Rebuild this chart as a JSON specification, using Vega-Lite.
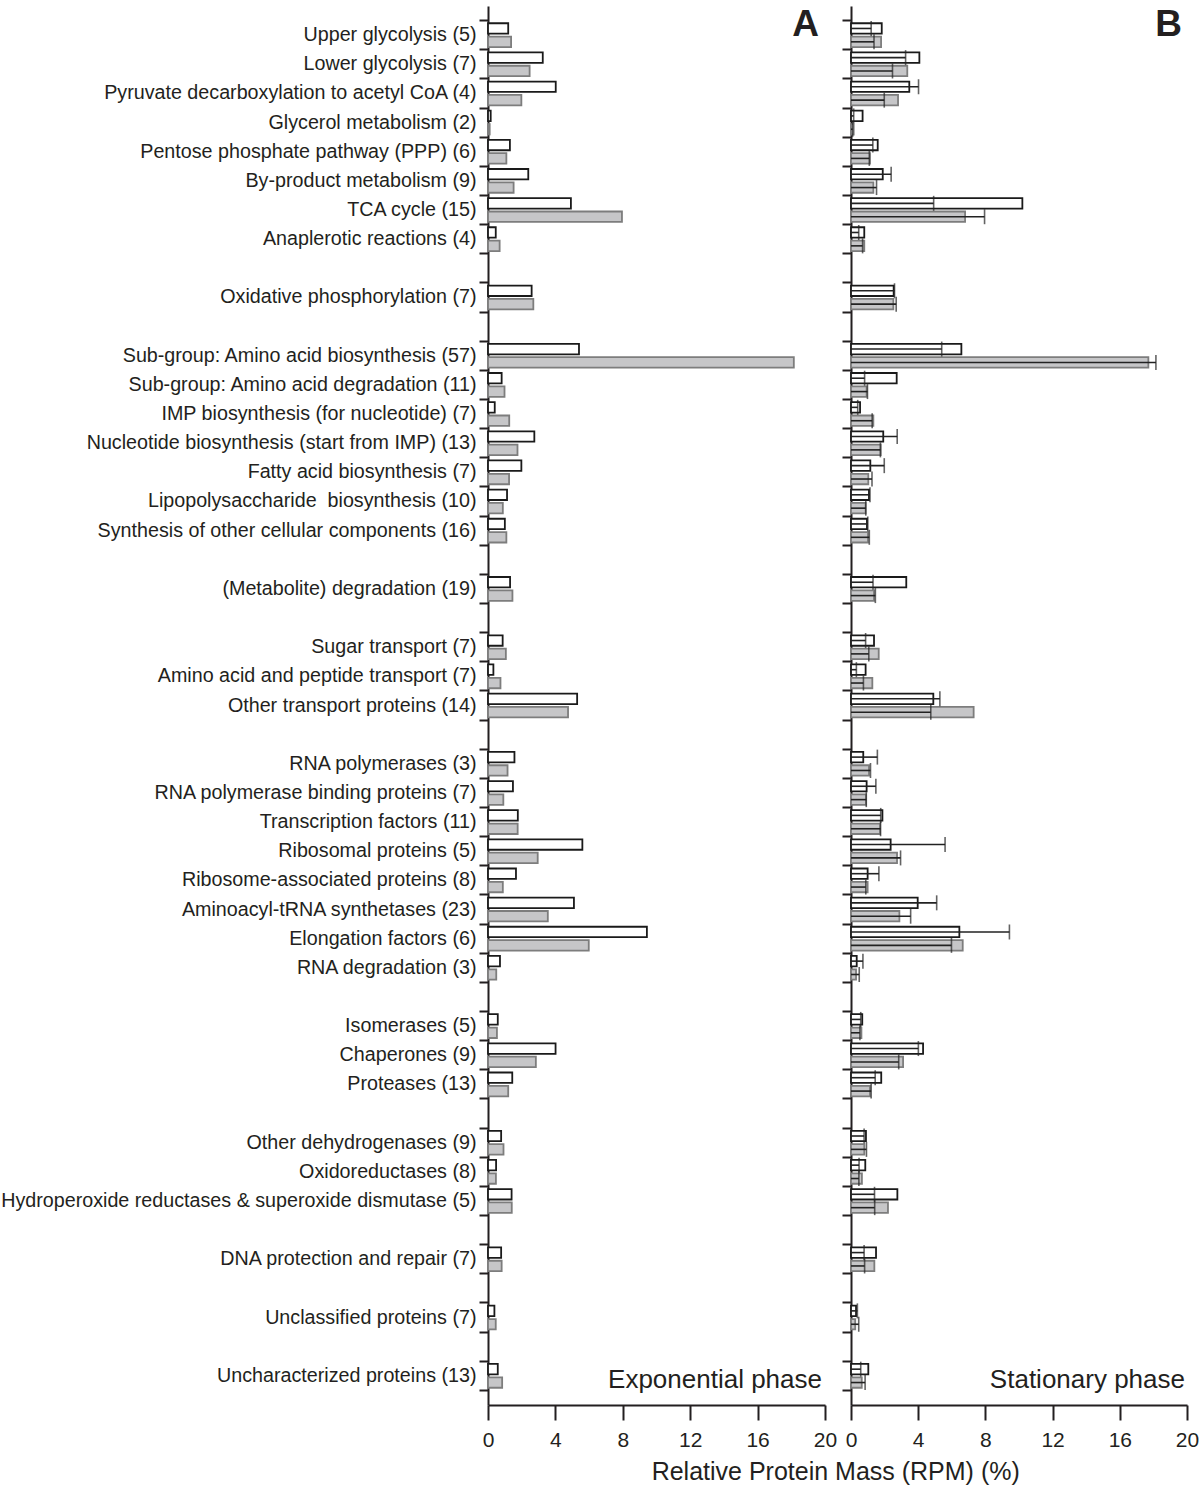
{
  "$schema": "https://vega.github.io/schema/vega-lite/v6.json",
  "background": "white",
  "padding": {"left": 0, "top": 6, "right": 0, "bottom": 4},
  "title": {"text": "Relative Protein Mass (RPM) (%)", "orient": "bottom", "anchor": "middle", "fontSize": 25, "fontWeight": "normal", "font": "Liberation Sans", "color": "#231f20", "dx": 236, "offset": 10},
  "datasets": {
    "rows": [
      {"c": "Upper glycolysis (5)", "s": "s1", "a": 1.2, "b": 1.83},
      {"c": "Upper glycolysis (5)", "s": "s2", "a": 1.37, "b": 1.79},
      {"c": "Lower glycolysis (7)", "s": "s1", "a": 3.25, "b": 4.07},
      {"c": "Lower glycolysis (7)", "s": "s2", "a": 2.47, "b": 3.35},
      {"c": "Pyruvate decarboxylation to acetyl CoA (4)", "s": "s1", "a": 4.02, "b": 3.47},
      {"c": "Pyruvate decarboxylation to acetyl CoA (4)", "s": "s2", "a": 1.98, "b": 2.8},
      {"c": "Glycerol metabolism (2)", "s": "s1", "a": 0.16, "b": 0.69},
      {"c": "Glycerol metabolism (2)", "s": "s2", "a": 0.1, "b": 0.16},
      {"c": "Pentose phosphate pathway (PPP) (6)", "s": "s1", "a": 1.3, "b": 1.59},
      {"c": "Pentose phosphate pathway (PPP) (6)", "s": "s2", "a": 1.09, "b": 1.13},
      {"c": "By-product metabolism (9)", "s": "s1", "a": 2.39, "b": 1.89},
      {"c": "By-product metabolism (9)", "s": "s2", "a": 1.52, "b": 1.33},
      {"c": "TCA cycle (15)", "s": "s1", "a": 4.92, "b": 10.2},
      {"c": "TCA cycle (15)", "s": "s2", "a": 7.95, "b": 6.79},
      {"c": "Anaplerotic reactions (4)", "s": "s1", "a": 0.46, "b": 0.79},
      {"c": "Anaplerotic reactions (4)", "s": "s2", "a": 0.69, "b": 0.79},
      {"c": "Oxidative phosphorylation (7)", "s": "s1", "a": 2.59, "b": 2.54},
      {"c": "Oxidative phosphorylation (7)", "s": "s2", "a": 2.69, "b": 2.52},
      {"c": "Sub-group: Amino acid biosynthesis (57)", "s": "s1", "a": 5.4, "b": 6.57},
      {"c": "Sub-group: Amino acid biosynthesis (57)", "s": "s2", "a": 18.15, "b": 17.7},
      {"c": "Sub-group: Amino acid degradation (11)", "s": "s1", "a": 0.81, "b": 2.72},
      {"c": "Sub-group: Amino acid degradation (11)", "s": "s2", "a": 0.98, "b": 0.93},
      {"c": "IMP biosynthesis (for nucleotide) (7)", "s": "s1", "a": 0.4, "b": 0.54},
      {"c": "IMP biosynthesis (for nucleotide) (7)", "s": "s2", "a": 1.26, "b": 1.33},
      {"c": "Nucleotide biosynthesis (start from IMP) (13)", "s": "s1", "a": 2.75, "b": 1.92},
      {"c": "Nucleotide biosynthesis (start from IMP) (13)", "s": "s2", "a": 1.75, "b": 1.77},
      {"c": "Fatty acid biosynthesis (7)", "s": "s1", "a": 1.98, "b": 1.15},
      {"c": "Fatty acid biosynthesis (7)", "s": "s2", "a": 1.25, "b": 1.03},
      {"c": "Lipopolysaccharide\u00a0 biosynthesis (10)", "s": "s1", "a": 1.13, "b": 1.07},
      {"c": "Lipopolysaccharide\u00a0 biosynthesis (10)", "s": "s2", "a": 0.88, "b": 0.87},
      {"c": "Synthesis of other cellular components (16)", "s": "s1", "a": 1.0, "b": 0.95},
      {"c": "Synthesis of other cellular components (16)", "s": "s2", "a": 1.09, "b": 1.01},
      {"c": "(Metabolite) degradation (19)", "s": "s1", "a": 1.31, "b": 3.29},
      {"c": "(Metabolite) degradation (19)", "s": "s2", "a": 1.45, "b": 1.37},
      {"c": "Sugar transport (7)", "s": "s1", "a": 0.87, "b": 1.37},
      {"c": "Sugar transport (7)", "s": "s2", "a": 1.06, "b": 1.65},
      {"c": "Amino acid and peptide transport (7)", "s": "s1", "a": 0.32, "b": 0.87},
      {"c": "Amino acid and peptide transport (7)", "s": "s2", "a": 0.74, "b": 1.27},
      {"c": "Other transport proteins (14)", "s": "s1", "a": 5.29, "b": 4.9},
      {"c": "Other transport proteins (14)", "s": "s2", "a": 4.75, "b": 7.3},
      {"c": "RNA polymerases (3)", "s": "s1", "a": 1.57, "b": 0.73},
      {"c": "RNA polymerases (3)", "s": "s2", "a": 1.16, "b": 1.07},
      {"c": "RNA polymerase binding proteins (7)", "s": "s1", "a": 1.48, "b": 0.93},
      {"c": "RNA polymerase binding proteins (7)", "s": "s2", "a": 0.91, "b": 0.89},
      {"c": "Transcription factors (11)", "s": "s1", "a": 1.77, "b": 1.87},
      {"c": "Transcription factors (11)", "s": "s2", "a": 1.76, "b": 1.73},
      {"c": "Ribosomal proteins (5)", "s": "s1", "a": 5.6, "b": 2.36},
      {"c": "Ribosomal proteins (5)", "s": "s2", "a": 2.95, "b": 2.74},
      {"c": "Ribosome-associated proteins (8)", "s": "s1", "a": 1.66, "b": 0.99},
      {"c": "Ribosome-associated proteins (8)", "s": "s2", "a": 0.88, "b": 0.99},
      {"c": "Aminoacyl-tRNA synthetases (23)", "s": "s1", "a": 5.1, "b": 3.97},
      {"c": "Aminoacyl-tRNA synthetases (23)", "s": "s2", "a": 3.55, "b": 2.88},
      {"c": "Elongation factors (6)", "s": "s1", "a": 9.43, "b": 6.45},
      {"c": "Elongation factors (6)", "s": "s2", "a": 5.98, "b": 6.65},
      {"c": "RNA degradation (3)", "s": "s1", "a": 0.71, "b": 0.34},
      {"c": "RNA degradation (3)", "s": "s2", "a": 0.49, "b": 0.3},
      {"c": "Isomerases (5)", "s": "s1", "a": 0.58, "b": 0.67},
      {"c": "Isomerases (5)", "s": "s2", "a": 0.53, "b": 0.62},
      {"c": "Chaperones (9)", "s": "s1", "a": 4.01, "b": 4.29},
      {"c": "Chaperones (9)", "s": "s2", "a": 2.84, "b": 3.1},
      {"c": "Proteases (13)", "s": "s1", "a": 1.44, "b": 1.8},
      {"c": "Proteases (13)", "s": "s2", "a": 1.2, "b": 1.13},
      {"c": "Other dehydrogenases (9)", "s": "s1", "a": 0.78, "b": 0.89},
      {"c": "Other dehydrogenases (9)", "s": "s2", "a": 0.92, "b": 0.79},
      {"c": "Oxidoreductases (8)", "s": "s1", "a": 0.48, "b": 0.85},
      {"c": "Oxidoreductases (8)", "s": "s2", "a": 0.47, "b": 0.65},
      {"c": "Hydroperoxide reductases & superoxide dismutase (5)", "s": "s1", "a": 1.4, "b": 2.76},
      {"c": "Hydroperoxide reductases & superoxide dismutase (5)", "s": "s2", "a": 1.41, "b": 2.2},
      {"c": "DNA protection and repair (7)", "s": "s1", "a": 0.78, "b": 1.49},
      {"c": "DNA protection and repair (7)", "s": "s2", "a": 0.81, "b": 1.39},
      {"c": "Unclassified proteins (7)", "s": "s1", "a": 0.38, "b": 0.3},
      {"c": "Unclassified proteins (7)", "s": "s2", "a": 0.46, "b": 0.25},
      {"c": "Uncharacterized proteins (13)", "s": "s1", "a": 0.58, "b": 1.03},
      {"c": "Uncharacterized proteins (13)", "s": "s2", "a": 0.84, "b": 0.64}
    ]
  },
  "data": {"name": "rows"},
  "spacing": 26,
  "bounds": "flush",
  "hconcat": [
    {
      "width": 337,
      "height": 1399,
      "resolve": {"axis": {"y": "independent"}},
      "layer": [
        {
          "mark": {"type": "bar", "strokeWidth": 1.8},
          "encoding": {
            "y": {
              "field": "c", "type": "nominal", "sort": null,
              "scale": {"paddingInner": 0, "paddingOuter": 0.5, "domain": ["Upper glycolysis (5)", "Lower glycolysis (7)", "Pyruvate decarboxylation to acetyl CoA (4)", "Glycerol metabolism (2)", "Pentose phosphate pathway (PPP) (6)", "By-product metabolism (9)", "TCA cycle (15)", "Anaplerotic reactions (4)", "gap1", "Oxidative phosphorylation (7)", "gap2", "Sub-group: Amino acid biosynthesis (57)", "Sub-group: Amino acid degradation (11)", "IMP biosynthesis (for nucleotide) (7)", "Nucleotide biosynthesis (start from IMP) (13)", "Fatty acid biosynthesis (7)", "Lipopolysaccharide\u00a0 biosynthesis (10)", "Synthesis of other cellular components (16)", "gap3", "(Metabolite) degradation (19)", "gap4", "Sugar transport (7)", "Amino acid and peptide transport (7)", "Other transport proteins (14)", "gap5", "RNA polymerases (3)", "RNA polymerase binding proteins (7)", "Transcription factors (11)", "Ribosomal proteins (5)", "Ribosome-associated proteins (8)", "Aminoacyl-tRNA synthetases (23)", "Elongation factors (6)", "RNA degradation (3)", "gap6", "Isomerases (5)", "Chaperones (9)", "Proteases (13)", "gap7", "Other dehydrogenases (9)", "Oxidoreductases (8)", "Hydroperoxide reductases & superoxide dismutase (5)", "gap8", "DNA protection and repair (7)", "gap9", "Unclassified proteins (7)", "gap10", "Uncharacterized proteins (13)"]},
              "axis": {"title": null, "orient": "left", "domainWidth": 2, "domainColor": "#231f20", "tickWidth": 2, "tickSize": 9, "tickColor": "#231f20", "bandPosition": 0, "labelFontSize": 19.72, "labelColor": "#231f20", "labelFont": "Liberation Sans", "labelPadding": 3, "labelLimit": 700, "labelExpr": "indexof(datum.value, 'gap') == 0 ? '' : datum.value"}
            },
            "yOffset": {"field": "s", "type": "nominal", "scale": {"domain": ["s1", "s2"], "paddingInner": 0.22, "paddingOuter": 0.2}},
            "x": {
              "field": "a", "type": "quantitative",
              "scale": {"domain": [0, 20], "nice": false, "zero": true},
              "axis": {"title": null, "values": [0, 2, 4, 6, 8, 10, 12, 14, 16, 18, 20], "labelExpr": "datum.value % 4 === 0 ? datum.label : ''", "grid": false, "domainWidth": 2, "domainColor": "#231f20", "tickWidth": 2, "tickColor": "#231f20", "tickSize": {"condition": {"test": "datum.value % 4 === 0", "value": 15}, "value": 8}, "labelFontSize": 21, "labelFont": "Liberation Sans", "labelColor": "#231f20", "labelFlush": false, "labelPadding": 9}
            },
            "fill": {"field": "s", "type": "nominal", "scale": {"domain": ["s1", "s2"], "range": ["#ffffff", "#c6c6c8"]}, "legend": null},
            "stroke": {"field": "s", "type": "nominal", "scale": {"domain": ["s1", "s2"], "range": ["#1a1a1a", "#7d7d7d"]}, "legend": null}
          }
        },
        {
          "data": {"values": [{}]},
          "mark": {"type": "text", "align": "right", "baseline": "middle", "fontSize": 37, "fontWeight": "bold", "font": "Liberation Sans", "color": "#231f20", "dx": -6, "dy": -10},
          "encoding": {"x": {"datum": 20}, "y": {"datum": "Upper glycolysis (5)", "axis": null}, "text": {"value": "A"}}
        },
        {
          "data": {"values": [{}]},
          "mark": {"type": "text", "align": "right", "baseline": "middle", "fontSize": 26, "font": "Liberation Sans", "color": "#231f20", "dx": -3, "dy": 4},
          "encoding": {
            "x": {"datum": 20},
            "y": {"datum": "Uncharacterized proteins (13)", "axis": {"orient": "left", "title": null, "values": ["Uncharacterized proteins (13)"], "bandPosition": 1, "labels": false, "domain": false, "grid": false, "tickSize": 9, "tickWidth": 2, "tickColor": "#231f20"}},
            "text": {"value": "Exponential phase"}
          }
        }
      ]
    },
    {
      "width": 336,
      "height": 1399,
      "resolve": {"axis": {"y": "independent"}},
      "layer": [
        {
          "mark": {"type": "bar", "strokeWidth": 1.8},
          "encoding": {
            "y": {
              "field": "c", "type": "nominal", "sort": null,
              "scale": {"paddingInner": 0, "paddingOuter": 0.5, "domain": ["Upper glycolysis (5)", "Lower glycolysis (7)", "Pyruvate decarboxylation to acetyl CoA (4)", "Glycerol metabolism (2)", "Pentose phosphate pathway (PPP) (6)", "By-product metabolism (9)", "TCA cycle (15)", "Anaplerotic reactions (4)", "gap1", "Oxidative phosphorylation (7)", "gap2", "Sub-group: Amino acid biosynthesis (57)", "Sub-group: Amino acid degradation (11)", "IMP biosynthesis (for nucleotide) (7)", "Nucleotide biosynthesis (start from IMP) (13)", "Fatty acid biosynthesis (7)", "Lipopolysaccharide\u00a0 biosynthesis (10)", "Synthesis of other cellular components (16)", "gap3", "(Metabolite) degradation (19)", "gap4", "Sugar transport (7)", "Amino acid and peptide transport (7)", "Other transport proteins (14)", "gap5", "RNA polymerases (3)", "RNA polymerase binding proteins (7)", "Transcription factors (11)", "Ribosomal proteins (5)", "Ribosome-associated proteins (8)", "Aminoacyl-tRNA synthetases (23)", "Elongation factors (6)", "RNA degradation (3)", "gap6", "Isomerases (5)", "Chaperones (9)", "Proteases (13)", "gap7", "Other dehydrogenases (9)", "Oxidoreductases (8)", "Hydroperoxide reductases & superoxide dismutase (5)", "gap8", "DNA protection and repair (7)", "gap9", "Unclassified proteins (7)", "gap10", "Uncharacterized proteins (13)"]},
              "axis": {"title": null, "orient": "left", "labels": false, "domainWidth": 2, "domainColor": "#231f20", "tickWidth": 2, "tickSize": 9, "tickColor": "#231f20", "bandPosition": 0}
            },
            "yOffset": {"field": "s", "type": "nominal", "scale": {"domain": ["s1", "s2"], "paddingInner": 0.22, "paddingOuter": 0.2}},
            "x": {
              "field": "b", "type": "quantitative",
              "scale": {"domain": [0, 20], "nice": false, "zero": true},
              "axis": {"title": null, "values": [0, 2, 4, 6, 8, 10, 12, 14, 16, 18, 20], "labelExpr": "datum.value % 4 === 0 ? datum.label : ''", "grid": false, "domainWidth": 2, "domainColor": "#231f20", "tickWidth": 2, "tickColor": "#231f20", "tickSize": {"condition": {"test": "datum.value % 4 === 0", "value": 15}, "value": 8}, "labelFontSize": 21, "labelFont": "Liberation Sans", "labelColor": "#231f20", "labelFlush": false, "labelPadding": 9}
            },
            "fill": {"field": "s", "type": "nominal", "scale": {"domain": ["s1", "s2"], "range": ["#ffffff", "#c6c6c8"]}, "legend": null},
            "stroke": {"field": "s", "type": "nominal", "scale": {"domain": ["s1", "s2"], "range": ["#1a1a1a", "#7d7d7d"]}, "legend": null}
          }
        },
        {
          "mark": {"type": "rule", "color": "#222222", "strokeWidth": 1.6},
          "encoding": {
            "y": {"field": "c", "type": "nominal", "axis": null},
            "yOffset": {"field": "s", "type": "nominal"},
            "x": {"field": "a", "type": "quantitative"}, "x2": {"datum": 0}
          }
        },
        {
          "mark": {"type": "tick", "orient": "vertical", "color": "#222222", "size": 15, "thickness": 1.6},
          "encoding": {
            "y": {"field": "c", "type": "nominal", "axis": null},
            "yOffset": {"field": "s", "type": "nominal"},
            "x": {"field": "a", "type": "quantitative"}
          }
        },
        {
          "data": {"values": [{}]},
          "mark": {"type": "text", "align": "right", "baseline": "middle", "fontSize": 37, "fontWeight": "bold", "font": "Liberation Sans", "color": "#231f20", "dx": -5, "dy": -10},
          "encoding": {"x": {"datum": 20}, "y": {"datum": "Upper glycolysis (5)", "axis": null}, "text": {"value": "B"}}
        },
        {
          "data": {"values": [{}]},
          "mark": {"type": "text", "align": "right", "baseline": "middle", "fontSize": 26, "font": "Liberation Sans", "color": "#231f20", "dx": -2, "dy": 4},
          "encoding": {
            "x": {"datum": 20},
            "y": {"datum": "Uncharacterized proteins (13)", "axis": {"orient": "left", "title": null, "values": ["Uncharacterized proteins (13)"], "bandPosition": 1, "labels": false, "domain": false, "grid": false, "tickSize": 9, "tickWidth": 2, "tickColor": "#231f20"}},
            "text": {"value": "Stationary phase"}
          }
        }
      ]
    }
  ],
  "config": {"view": {"stroke": null}, "font": "Liberation Sans"}
}
